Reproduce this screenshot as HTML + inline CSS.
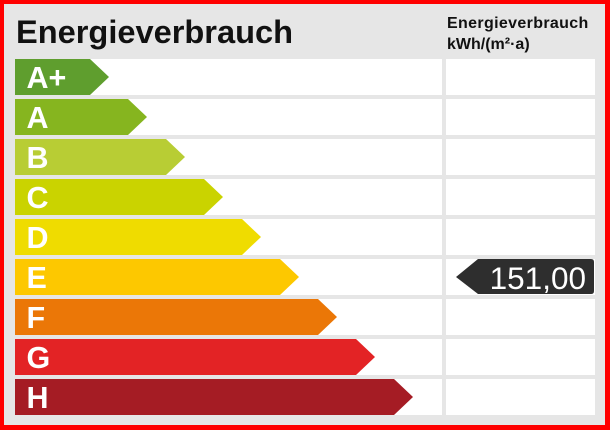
<!DOCTYPE html>
<html><head><meta charset="utf-8"><style>
html,body{margin:0;padding:0;background:#f00;}
svg{display:block;}
</style></head><body>
<svg width="610" height="430" xmlns="http://www.w3.org/2000/svg" font-family="Liberation Sans, Arial, sans-serif">
<rect x="0" y="0" width="610" height="430" fill="#ff0000"/>
<rect x="4" y="4" width="601" height="421" fill="#e6e6e6"/>
<text x="16" y="43" font-size="32.6" font-weight="bold" fill="#111">Energieverbrauch</text>
<text x="447" y="28" font-size="16" font-weight="bold" fill="#111" letter-spacing="0.35">Energieverbrauch</text>
<text x="447" y="49" font-size="16" font-weight="bold" fill="#111">kWh/(m²·a)</text>
<g fill="#ffffff">
<rect x="15" y="59" width="427" height="36"/><rect x="446" y="59" width="149" height="36"/>
<rect x="15" y="99" width="427" height="36"/><rect x="446" y="99" width="149" height="36"/>
<rect x="15" y="139" width="427" height="36"/><rect x="446" y="139" width="149" height="36"/>
<rect x="15" y="179" width="427" height="36"/><rect x="446" y="179" width="149" height="36"/>
<rect x="15" y="219" width="427" height="36"/><rect x="446" y="219" width="149" height="36"/>
<rect x="15" y="259" width="427" height="36"/><rect x="446" y="259" width="149" height="36"/>
<rect x="15" y="299" width="427" height="36"/><rect x="446" y="299" width="149" height="36"/>
<rect x="15" y="339" width="427" height="36"/><rect x="446" y="339" width="149" height="36"/>
<rect x="15" y="379" width="427" height="36"/><rect x="446" y="379" width="149" height="36"/>
</g>
<polygon points="15,59 90,59 109,77 90,95 15,95" fill="#5f9e2e"/>
<polygon points="15,99 128,99 147,117 128,135 15,135" fill="#86b51f"/>
<polygon points="15,139 166,139 185,157 166,175 15,175" fill="#b8cd34"/>
<polygon points="15,179 204,179 223,197 204,215 15,215" fill="#cad300"/>
<polygon points="15,219 242,219 261,237 242,255 15,255" fill="#efdc00"/>
<polygon points="15,259 280,259 299,277 280,295 15,295" fill="#fdc800"/>
<polygon points="15,299 318,299 337,317 318,335 15,335" fill="#eb7707"/>
<polygon points="15,339 356,339 375,357 356,375 15,375" fill="#e32325"/>
<polygon points="15,379 394,379 413,397 394,415 15,415" fill="#a51c24"/>
<g font-size="30.5" font-weight="bold" fill="#ffffff">
<text x="26.5" y="88">A+</text>
<text x="26.5" y="128">A</text>
<text x="26.5" y="168">B</text>
<text x="26.5" y="208">C</text>
<text x="26.5" y="248">D</text>
<text x="26.5" y="288">E</text>
<text x="26.5" y="328">F</text>
<text x="26.5" y="368">G</text>
<text x="26.5" y="408">H</text>
</g>
<path d="M456,277 L478,259 L591,259 Q594,259 594,262 L594,291 Q594,294 591,294 L478,294 Z" fill="#2e2e2e"/>
<text x="586" y="289" font-size="31.5" fill="#ffffff" text-anchor="end">151,00</text>
</svg>
</body></html>
